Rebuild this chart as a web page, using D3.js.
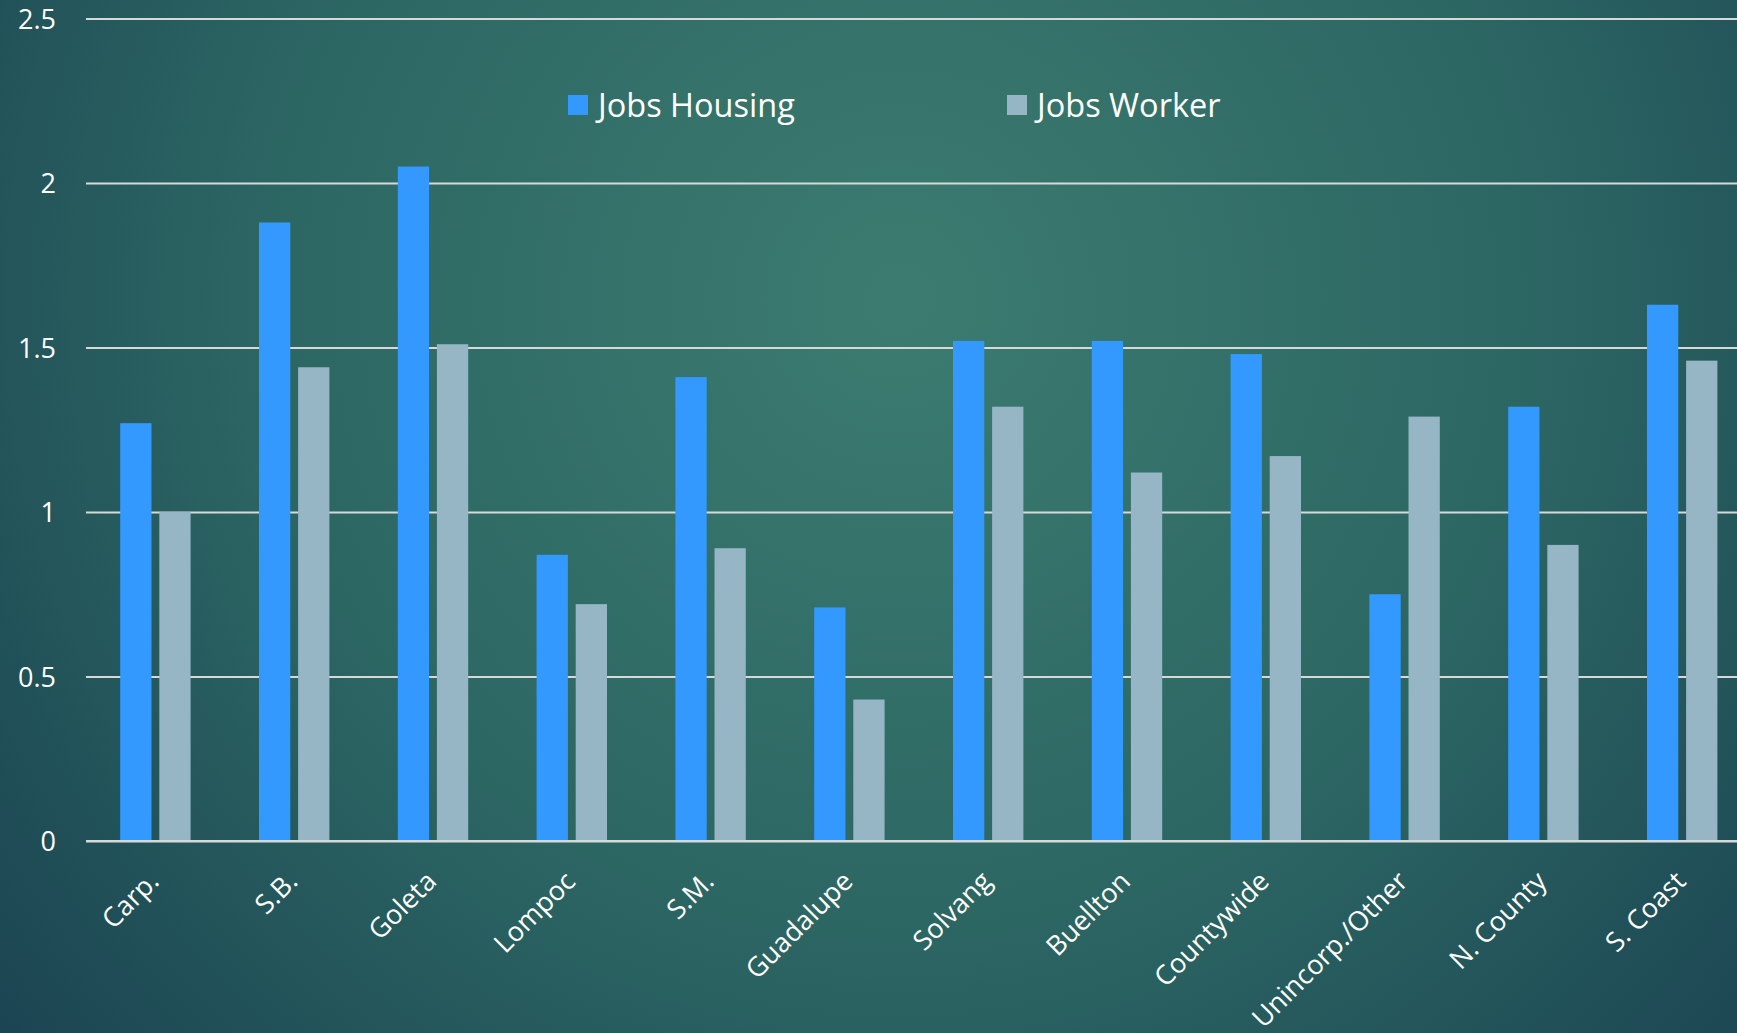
<!DOCTYPE html>
<html>
<head>
<meta charset="utf-8">
<script src="https://cdn.jsdelivr.net/npm/d3@7"></script>
<style>
  html, body { margin: 0; padding: 0; overflow: hidden; }
  svg { display: block; }
</style>
</head>
<body>
<svg id="chart"></svg>
<script>
// chart data
var categories = ["Carp.", "S.B.", "Goleta", "Lompoc", "S.M.", "Guadalupe", "Solvang",
                  "Buellton", "Countywide", "Unincorp./Other", "N. County", "S. Coast"];
var jobsHousing = [1.27, 1.88, 2.05, 0.87, 1.41, 0.71, 1.52, 1.52, 1.48, 0.75, 1.32, 1.63];
var jobsWorker  = [1.00, 1.44, 1.51, 0.72, 0.89, 0.43, 1.32, 1.12, 1.17, 1.29, 0.90, 1.46];
var seriesNames = ["Jobs Housing", "Jobs Worker"];
var yTicks = [0, 0.5, 1, 1.5, 2, 2.5];

(function barChart() {
    var W = 1737, H = 1033;
    var svg = d3.select("#chart").attr("width", W).attr("height", H);

    // background
    var defs = svg.append("defs");
    var grad = defs.append("radialGradient")
        .attr("id", "bg")
        .attr("gradientUnits", "userSpaceOnUse")
        .attr("cx", 900).attr("cy", 300).attr("r", 1150);
    grad.append("stop").attr("offset", "0%").attr("stop-color", "#3c7c70");
    grad.append("stop").attr("offset", "55%").attr("stop-color", "#2c6663");
    grad.append("stop").attr("offset", "100%").attr("stop-color", "#1b4552");
    svg.append("rect").attr("width", W).attr("height", H).attr("fill", "url(#bg)");

    var left = 86, step = 138.8;
    var data = categories.map(function (c, i) {
        return {cat: c, values: [jobsHousing[i], jobsWorker[i]]};
    });

    var x0 = d3.scaleBand()
        .domain(categories)
        .range([left, left + step * categories.length])
        .paddingInner(0)
        .paddingOuter(0);

    var x1 = d3.scaleBand()
        .domain(seriesNames)
        .range([34.2, step - 34.2])
        .paddingInner(0.2);

    var y = d3.scaleLinear()
        .domain([0, 2.5])
        .range([841, 18.5]);

    var color = d3.scaleOrdinal()
        .domain(seriesNames)
        .range(["#3399ff", "#96b5c5"]);

    // grid lines
    var grid = svg.append("g")
        .attr("transform", "translate(" + left + ",0)")
        .call(d3.axisLeft(y).tickValues(yTicks).tickSize(-(W - left)).tickFormat(""));
    grid.select(".domain").remove();
    grid.selectAll(".tick line")
        .attr("stroke", "#d6d9d8")
        .attr("stroke-width", 2);

    // bars
    svg.append("g")
        .selectAll("g")
        .data(data)
        .enter().append("g")
        .attr("transform", function (d) { return "translate(" + x0(d.cat) + ",0)"; })
        .selectAll("rect")
        .data(function (d) {
            return d.values.map(function (v, i) { return {key: seriesNames[i], value: v}; });
        })
        .enter().append("rect")
        .attr("x", function (d) { return x1(d.key); })
        .attr("y", function (d) { return y(d.value); })
        .attr("width", x1.bandwidth())
        .attr("height", function (d) { return y(0) - y(d.value); })
        .attr("fill", function (d) { return color(d.key); });

    // baseline over bars
    svg.append("line")
        .attr("x1", left).attr("x2", W)
        .attr("y1", y(0)).attr("y2", y(0))
        .attr("stroke", "#d6d9d8").attr("stroke-width", 2);

    // y axis labels
    var yAxis = svg.append("g")
        .attr("transform", "translate(56,0)")
        .call(d3.axisLeft(y).tickValues(yTicks).tickSize(0).tickPadding(0)
            .tickFormat(function (d) { return d; }));
    yAxis.select(".domain").remove();
    yAxis.selectAll("text")
        .attr("fill", "#ffffff")
        .attr("font-family", "Open Sans")
        .attr("font-size", "27px")
        .attr("dy", "0.36em");

    // x axis labels
    var xAxis = svg.append("g")
        .attr("transform", "translate(0," + y(0) + ")")
        .call(d3.axisBottom(x0).tickSize(0).tickPadding(0));
    xAxis.select(".domain").remove();
    xAxis.selectAll("text")
        .attr("fill", "#ffffff")
        .attr("font-family", "Open Sans")
        .attr("font-size", "27px")
        .attr("text-anchor", "end")
        .attr("dy", null)
        .attr("y", 0)
        .attr("transform", "translate(5,42) rotate(-45)");

    // legend
    var legendX = [568, 1007];
    var legend = svg.append("g")
        .selectAll("g")
        .data(seriesNames)
        .enter().append("g")
        .attr("transform", function (d, i) { return "translate(" + legendX[i] + ",95)"; });

    legend.append("rect")
        .attr("width", 20)
        .attr("height", 20)
        .attr("fill", color);

    legend.append("text")
        .attr("x", 30)
        .attr("y", 10)
        .attr("dy", "0.36em")
        .attr("fill", "#ffffff")
        .attr("font-family", "Open Sans")
        .attr("font-size", "32.5px")
        .text(function (d) { return d; });
}());
</script>
</body>
</html>
